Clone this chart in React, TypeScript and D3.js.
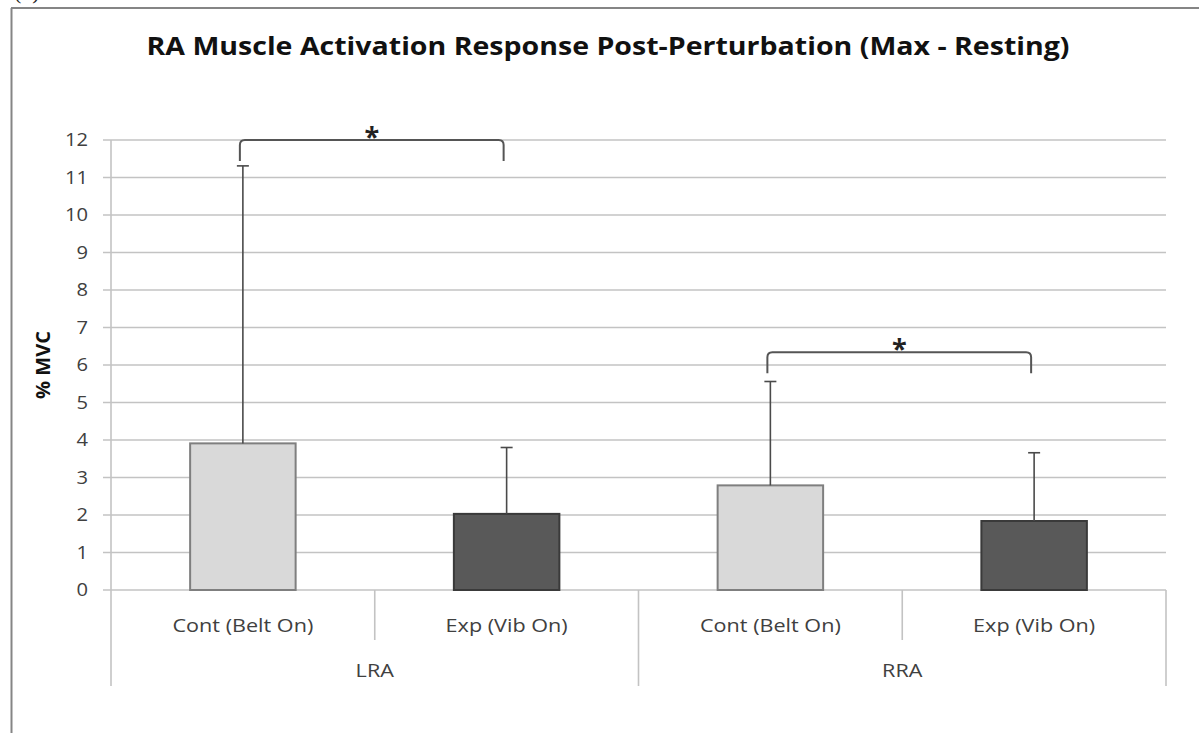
import React from "react";
import * as d3 from "d3";

// ---- Data ----
const groups = ["LRA", "RRA"];
const conditions = ["Cont (Belt On)", "Exp (Vib On)"];
const meanValues = [3.91, 2.03, 2.79, 1.84];
const errorValues = [7.4, 1.77, 2.77, 1.82];
const yTickValues = [0, 1, 2, 3, 4, 5, 6, 7, 8, 9, 10, 11, 12];
const bracketFrom = [0, 2];
const bracketTo = [1, 3];
const bracketLevel = [12, 6.34];
const bracketLeg = [11.44, 5.78];
const bracketLabel = ["*", "*"];
const title = "RA Muscle Activation Response Post-Perturbation (Max - Resting)";
const yLabel = "% MVC";

const W = 1199;
const H = 733;
const plot = { left: 111, right: 1166, top: 140, bottom: 590 };
const FONT = "'Open Sans', Lato, sans-serif";
const TEXT = "#404040";
const GRID = "#c3c3c3";

const categories = groups.flatMap((g) => conditions.map((c) => `${g}|${c}`));

export default function App() {
  const x = d3.scaleBand<string>().domain(categories).range([plot.left, plot.right]).padding(0);
  const y = d3.scaleLinear().domain([0, 12]).range([plot.bottom, plot.top]);
  const bw = x.bandwidth();
  const barW = bw * 0.4;
  const groupW = bw * conditions.length;

  const fills = ["#d9d9d9", "#595959"];
  const strokes = ["#7f7f7f", "#3a3a3a"];

  return (
    <svg
      width={W}
      height={H}
      style={{ position: "absolute", left: 0, top: 0, background: "#fff" }}
      fontFamily={FONT}
    >
      <rect x={0} y={0} width={W} height={H} fill="#fff" />
      {/* outer frame fragment */}
      <text x={14} y={-1} fontFamily="'Liberation Serif', serif" fontSize={22} fill="#222">(b)</text>
      <line x1={11.5} y1={8} x2={11.5} y2={H} stroke="#858585" strokeWidth={2} />
      <line x1={11} y1={8} x2={W} y2={8} stroke="#858585" strokeWidth={2} />

      {/* title */}
      <text
        x={608}
        y={55}
        textAnchor="middle"
        fontSize={25}
        fontWeight="bold"
        fill="#111"
        textLength={923}
        lengthAdjust="spacingAndGlyphs"
      >
        {title}
      </text>

      {/* gridlines and y ticks */}
      {yTickValues.map((t) => (
        <g key={t}>
          <line x1={plot.left - 8} x2={plot.right} y1={y(t)} y2={y(t)} stroke={GRID} strokeWidth={1.6} />
          <text
            transform={`translate(88,${y(t)}) scale(1.12,1)`}
            dy="0.36em"
            textAnchor="end"
            fontSize={18}
            fill={TEXT}
          >
            {t}
          </text>
        </g>
      ))}
      {/* y axis line */}
      <line x1={plot.left} x2={plot.left} y1={plot.top} y2={plot.bottom + 96} stroke={GRID} strokeWidth={1.6} />

      {/* y label */}
      <text
        transform={`translate(${50},${(plot.top + plot.bottom) / 2}) rotate(-90)`}
        textAnchor="middle"
        fontSize={20}
        fontWeight="bold"
        fill="#111"
      >
        {yLabel}
      </text>

      {/* category axis separators */}
      {categories.map((c, i) => {
        const xr = (x(c) as number) + bw;
        const isGroupEnd = (i + 1) % conditions.length === 0;
        return (
          <line
            key={"sep" + c}
            x1={xr}
            x2={xr}
            y1={plot.bottom}
            y2={plot.bottom + (isGroupEnd ? 96 : 50)}
            stroke={GRID}
            strokeWidth={1.6}
          />
        );
      })}
      {categories.map((c, i) => (
        <text
          key={"cl" + c}
          transform={`translate(${(x(c) as number) + bw / 2},632) scale(1.2,1)`}
          textAnchor="middle"
          fontSize={18}
          fill={TEXT}
        >
          {conditions[i % conditions.length]}
        </text>
      ))}
      {groups.map((g, gi) => (
        <text
          key={"gl" + g}
          transform={`translate(${plot.left + groupW * gi + groupW / 2},677) scale(1.2,1)`}
          textAnchor="middle"
          fontSize={18}
          fill={TEXT}
        >
          {g}
        </text>
      ))}

      {/* bars */}
      {categories.map((c, i) => {
        const cx = (x(c) as number) + bw / 2;
        const ci = i % conditions.length;
        return (
          <rect
            key={"bar" + c}
            x={cx - barW / 2}
            y={y(meanValues[i])}
            width={barW}
            height={y(0) - y(meanValues[i])}
            fill={fills[ci]}
            stroke={strokes[ci]}
            strokeWidth={2}
          />
        );
      })}

      {/* error bars */}
      {categories.map((c, i) => {
        const cx = (x(c) as number) + bw / 2;
        const top = y(meanValues[i] + errorValues[i]);
        return (
          <g key={"err" + c} stroke="#4a4a4a" strokeWidth={1.6}>
            <line x1={cx} x2={cx} y1={y(meanValues[i])} y2={top} />
            <line x1={cx - 6} x2={cx + 6} y1={top} y2={top} />
          </g>
        );
      })}

      {/* significance brackets */}
      {bracketFrom.map((f, bi) => {
        const x1 = (x(categories[f]) as number) + bw / 2 - 3;
        const x2 = (x(categories[bracketTo[bi]]) as number) + bw / 2 - 3;
        const ly = y(bracketLevel[bi]);
        const legY = y(bracketLeg[bi]);
        const r = 5;
        const d = `M${x1},${legY} L${x1},${ly + r} Q${x1},${ly} ${x1 + r},${ly} L${x2 - r},${ly} Q${x2},${ly} ${x2},${ly + r} L${x2},${legY}`;
        return (
          <g key={"br" + bi}>
            <path d={d} fill="none" stroke="#555" strokeWidth={2} />
            <text
              x={(x1 + x2) / 2}
              y={ly + 6}
              textAnchor="middle"
              fontSize={27}
              fontWeight="bold"
              fill="#222"
            >
              {bracketLabel[bi]}
            </text>
          </g>
        );
      })}
    </svg>
  );
}
